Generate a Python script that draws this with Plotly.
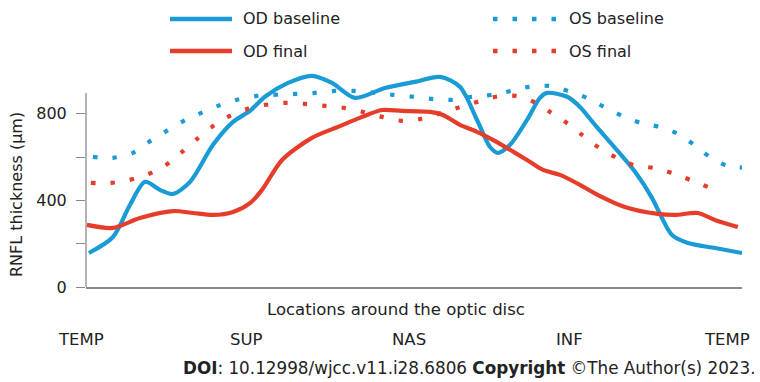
import plotly.graph_objects as go

# ---- data (angle around the disc in degrees, RNFL thickness in µm) ----
od_base_x = [1.6, 14.8, 24.1, 32.4, 40.6, 47.7, 57.1, 69.7, 80.7, 90.0, 98.2, 110.9, 124.0, 135.0,
             147.6, 164.1, 180.5, 194.3, 205.2, 214.6, 221.7, 226.1, 232.7, 242.0, 249.1, 253.0,
             264.0, 271.1, 279.3, 290.3, 301.3, 310.6, 316.1, 321.6, 330.4, 345.2, 360.0]
od_base_y = [157, 231, 379, 486, 449, 430, 486, 657, 763, 814, 879, 943, 976, 943,
             874, 920, 948, 971, 925, 772, 647, 620, 657, 772, 874, 897,
             879, 832, 749, 643, 532, 412, 319, 240, 203, 180, 157]

od_final_x = [0.5, 14.8, 29.6, 47.7, 58.7, 69.7, 80.7, 90.0, 96.6, 107.6, 124.0, 138.3, 151.5,
              162.4, 173.4, 188.8, 195.9, 205.2, 214.6, 223.3, 232.7, 242.0, 250.8, 260.1,
              271.1, 281.0, 295.7, 313.8, 323.2, 335.8, 345.1, 357.7]
od_final_y = [287, 273, 319, 351, 342, 333, 347, 388, 449, 587, 689, 740, 786,
              818, 814, 809, 795, 749, 717, 680, 634, 587, 541, 518,
              472, 425, 370, 338, 333, 342, 310, 277]

os_base_x = [3.8, 14.8, 25.8, 34.6, 43.4, 52.7, 62.0, 72.4, 82.9, 93.8, 114.7, 125.7, 136.6,
             147.6, 168.5, 179.5, 189.9, 200.9, 211.8, 222.8, 233.2, 243.1, 254.1, 264.5,
             274.9, 284.3, 294.1, 304.6, 314.5, 324.9, 333.7, 342.4, 351.8, 360.0]
os_base_y = [601, 597, 620, 671, 717, 763, 800, 837, 865, 883, 892, 897, 906,
             906, 888, 879, 869, 865, 879, 888, 906, 925, 929, 906,
             874, 832, 791, 758, 740, 708, 657, 601, 560, 552]

os_final_x = [2.7, 13.7, 24.1, 34.6, 43.9, 52.7, 60.9, 69.1, 77.9, 88.4, 98.8, 109.2, 120.2,
              131.2, 141.6, 152.0, 162.4, 173.4, 183.8, 204.1, 214.6, 225.0, 236.0, 245.9,
              254.6, 263.9, 272.2, 281.0, 290.3, 300.2, 311.2, 321.6, 331.5, 341.4]
os_final_y = [481, 481, 495, 523, 564, 624, 684, 740, 786, 823, 842, 851, 846,
              837, 828, 809, 786, 768, 777, 828, 855, 879, 883, 855,
              809, 758, 703, 647, 601, 564, 550, 527, 495, 462]

series_names = ["OD baseline", "OD final", "OS baseline", "OS final"]
location_labels = ["TEMP", "SUP", "NAS", "INF", "TEMP"]
y_tick_vals = [0, 200, 400, 600, 800]
y_tick_text = ["0", "", "400", "", "800"]

# ---- styling ----
BLUE = "#1b9bd6"
RED = "#e63d2b"
FONT = "DejaVu Sans"
TXT = "#222222"
DOT = "4.5px,15px"
label_pos = [-0.0076, 0.2454, 0.4924, 0.7363, 0.9771]   # paper x of location labels

styles = [
    dict(color=BLUE, dash="solid"),
    dict(color=RED, dash="solid"),
    dict(color=BLUE, dash=DOT),
    dict(color=RED, dash=DOT),
]
xs = [od_base_x, od_final_x, os_base_x, os_final_x]
ys = [od_base_y, od_final_y, os_base_y, os_final_y]

fig = go.Figure()
for name, x, y, st in zip(series_names, xs, ys, styles):
    fig.add_trace(go.Scatter(
        x=x, y=y, name=name, mode="lines",
        line=dict(color=st["color"], width=4.2, dash=st["dash"], shape="spline", smoothing=0.8),
        showlegend=False, hoverinfo="skip",
    ))

# manual legend (two columns)
leg_rows = [1.224, 1.0776, 1.224, 1.0776]
leg_x0 = [0.128, 0.128, 0.6204, 0.6204]
leg_x1 = [0.2226, 0.2226, 0.7210, 0.7210]
leg_tx = [0.2363, 0.2363, 0.7332, 0.7332]
shapes = []
annotations = []
for name, st, yr, a, b, t in zip(series_names, styles, leg_rows, leg_x0, leg_x1, leg_tx):
    shapes.append(dict(type="line", xref="paper", yref="paper", x0=a, x1=b, y0=yr, y1=yr,
                       line=dict(color=st["color"], width=4.5, dash=st["dash"])))
    annotations.append(dict(text=name, xref="paper", yref="paper", x=t, y=yr,
                            xanchor="left", yanchor="middle", showarrow=False,
                            font=dict(family=FONT, size=16, color=TXT)))

# y axis line (stops at the top of the scale)
shapes.append(dict(type="line", xref="paper", yref="y", x0=0, x1=0, y0=0, y1=897,
                   line=dict(color="#8a8a8a", width=1.3)))

# location labels
for lab, px in zip(location_labels, label_pos):
    annotations.append(dict(text=lab, xref="paper", yref="paper", x=px, y=-0.242,
                            xanchor="center", yanchor="middle", showarrow=False,
                            font=dict(family=FONT, size=16.5, color=TXT)))

annotations.append(dict(text="Locations around the optic disc", xref="paper", yref="paper",
                        x=0.4726, y=-0.105, xanchor="center", yanchor="middle", showarrow=False,
                        font=dict(family=FONT, size=16.5, color=TXT)))
annotations.append(dict(text="RNFL thickness (μm)", xref="paper", yref="paper",
                        x=-0.1067, y=0.42, xanchor="center", yanchor="middle", textangle=-90,
                        showarrow=False, font=dict(family=FONT, size=16, color=TXT)))
annotations.append(dict(text="<b>DOI</b>: 10.12998/wjcc.v11.i28.6806 <b>Copyright</b> ©The Author(s) 2023.",
                        xref="paper", yref="paper", x=1.0244, y=-0.37, xanchor="right",
                        yanchor="middle", showarrow=False,
                        font=dict(family=FONT, size=16.8, color=TXT)))

fig.update_layout(
    width=760, height=382,
    margin=dict(l=86, r=18, t=68, b=95),
    paper_bgcolor="white", plot_bgcolor="white",
    showlegend=False,
    shapes=shapes, annotations=annotations,
    xaxis=dict(range=[0, 360], showgrid=False, zeroline=False, showticklabels=False,
               ticks="", showline=True, linecolor="#8a8a8a", linewidth=1.5),
    yaxis=dict(range=[0, 1012], showgrid=False, zeroline=False, showline=False,
               tickvals=y_tick_vals, ticktext=y_tick_text, ticks="outside", ticklen=9,
               tickcolor="#8a8a8a", tickwidth=1.2, ticklabelstandoff=6,
               tickfont=dict(family=FONT, size=16, color=TXT)),
)

fig.write_html("out.html", config={"displayModeBar": False},
               post_script="document.body.style.margin='0';document.body.style.overflow='hidden';")
